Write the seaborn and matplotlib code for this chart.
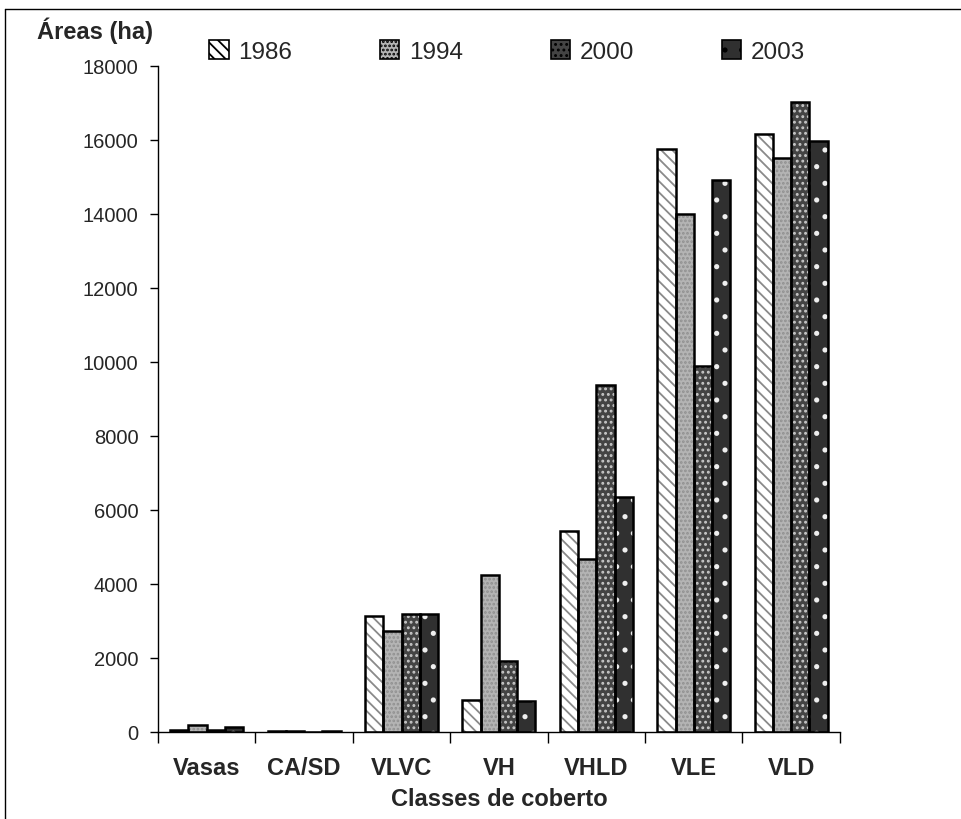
import numpy as np
import pandas as pd
import matplotlib
matplotlib.use("Agg")
import matplotlib.pyplot as plt
import seaborn as sns
from matplotlib.lines import Line2D

categories = ["Vasas", "CA/SD", "VLVC", "VH", "VHLD", "VLE", "VLD"]
years = ["1986", "1994", "2000", "2003"]
v1986 = [50, 40, 3130, 860, 5430, 15770, 16170]
v1994 = [180, 40, 2730, 4250, 4670, 13990, 15520]
v2000 = [50, 0, 3190, 1930, 9370, 9880, 17040]
v2003 = [130, 40, 3190, 850, 6340, 14920, 15960]
yticks = list(range(0, 18001, 2000))

df = pd.DataFrame({
    "cls": categories * 4,
    "year": sum([[y] * len(categories) for y in years], []),
    "val": v1986 + v1994 + v2000 + v2003,
})

sns.set_theme(style="white")
plt.rcParams["font.family"] = ["Liberation Sans", "DejaVu Sans"]
plt.rcParams["hatch.linewidth"] = 1.3

fills = {"1986": "#ffffff", "1994": "#b4b4b4", "2000": "#444444", "2003": "#303030"}
hatches = {"1986": "\\\\\\", "1994": "....", "2000": "...", "2003": "."}
hcols = {"1986": "#8a8a8a", "1994": "#909090", "2000": "#c8c8c8", "2003": "#eeeeee"}
blacks = {y: "black" for y in years}

fig = plt.figure(figsize=(9.61, 8.2), dpi=100)
ax = fig.add_axes([0.1644, 0.1061, 0.874 - 0.1644, 0.9183 - 0.1061])

# layer 1: fills with coloured hatches
sns.barplot(data=df, x="cls", y="val", hue="year", order=categories, hue_order=years,
            palette=fills, width=0.75, linewidth=0, saturation=1, ax=ax, legend=True)
for cont, yr in zip(ax.containers, years):
    for p in cont.patches:
        p.set_hatch(hatches[yr])
        p.set_edgecolor(hcols[yr])
        p.set_linewidth(0)
# layer 2: black outlines
sns.barplot(data=df, x="cls", y="val", hue="year", order=categories, hue_order=years,
            palette=blacks, width=0.75, fill=False, linewidth=1.8, ax=ax, legend=False)

ax.set_ylim(0, 18000)
ax.set_xlim(-0.5, 6.5)
ax.set_yticks(yticks)
ax.set_yticklabels([str(t) for t in yticks], fontsize=14.5)
ax.set_xticks(range(len(categories)))
ax.set_xticklabels(categories, fontsize=17, fontweight="bold")
ax.set_xticks(np.arange(-0.5, 7.0, 1.0), minor=True)
ax.tick_params(axis="x", which="major", length=0, pad=17)
ax.tick_params(axis="x", which="minor", length=8, width=1, color="black", direction="out", bottom=True)
ax.tick_params(axis="y", length=6, width=1, color="black", direction="out", left=True, pad=8)
for s in ["top", "right"]:
    ax.spines[s].set_visible(False)
for s in ["left", "bottom"]:
    ax.spines[s].set_color("black")
    ax.spines[s].set_linewidth(1)
ax.set_xlabel("Classes de coberto", fontsize=17, fontweight="bold", labelpad=6)
ax.set_ylabel("")
ax.grid(False)

handles, labels = ax.get_legend_handles_labels()
handles, labels = handles[:4], labels[:4]
for h, yr in zip(handles, years):
    h.set_hatch(hatches[yr])
    h.set_edgecolor("black")
    h.set_linewidth(1.2)
ax.legend(handles, labels, loc="upper center", bbox_to_anchor=(0.512, 1.072), ncol=4,
          frameon=False, fontsize=17.5, handlelength=0.8, handleheight=0.8,
          columnspacing=3.6, handletextpad=0.4)

fig.text(37 / 961, 1 - 31 / 820, "Áreas (ha)", fontsize=17, fontweight="bold",
         ha="left", va="center")

fig.add_artist(Line2D([5 / 961, 1.0], [1 - 10 / 820, 1 - 10 / 820], color="black", lw=1, transform=fig.transFigure))
fig.add_artist(Line2D([5 / 961, 5 / 961], [0, 1 - 10 / 820], color="black", lw=1, transform=fig.transFigure))

fig.savefig("out.png", dpi=100)
